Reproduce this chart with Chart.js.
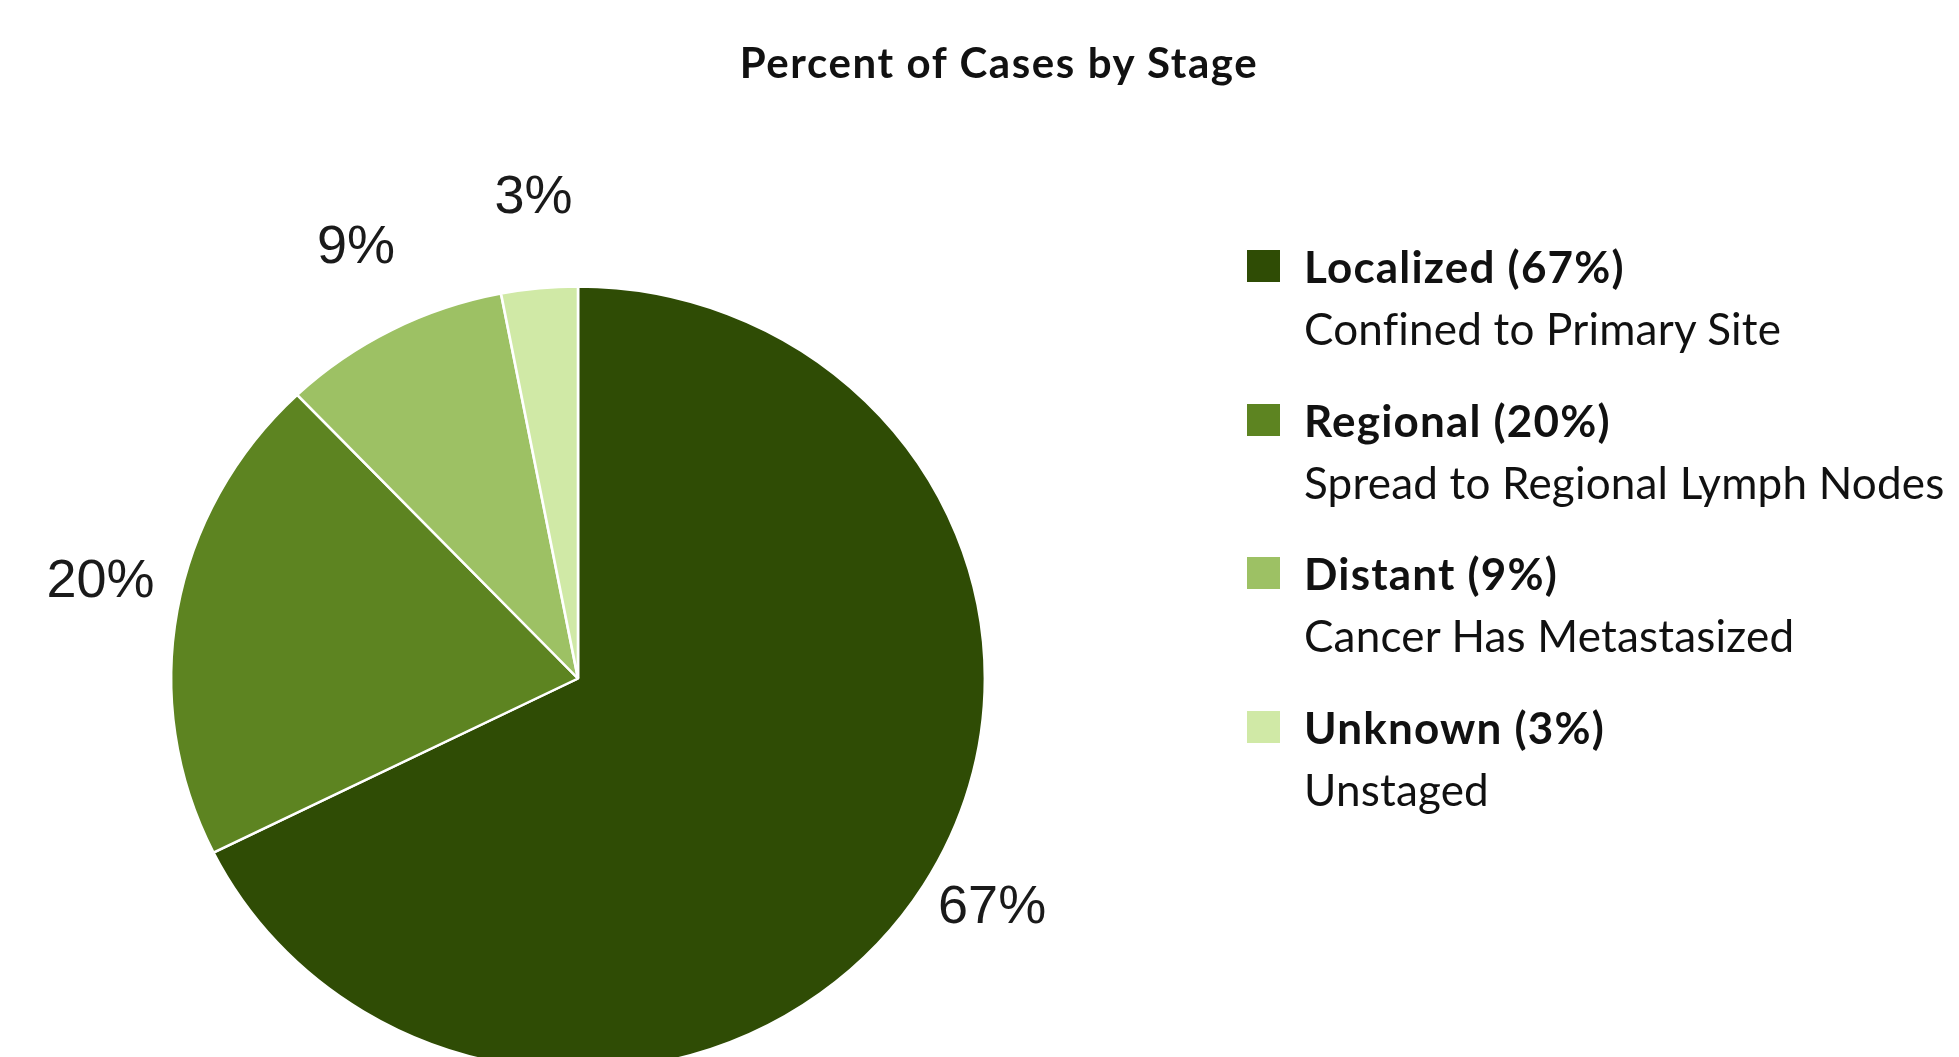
<!DOCTYPE html>
<html>
<head>
<meta charset="utf-8">
<script src="https://cdn.jsdelivr.net/npm/chart.js@4.4.1/dist/chart.umd.min.js"></script>
<style>
  html, body { margin: 0; padding: 0; background: #ffffff; overflow: hidden; width: 1959px; height: 1057px; }
  #wrap { position: absolute; left: 0; top: 0; width: 1959px; height: 1100px; }
  #title { position: absolute; left: 0; top: 37px; width: 1998px; text-align: center;
           font-family: Lato, "Noto Sans", sans-serif; font-weight: 700; font-size: 42px; letter-spacing: 1.6px;
           line-height: 50px; color: #111; }
  #legend { position: absolute; left: 0; top: 0; }
  .item { position: absolute; left: 1247px; }
  .swatch { position: absolute; left: 0; width: 33px; height: 32px; }
  .lab { position: absolute; left: 57px; white-space: nowrap; font-family: Lato, "Noto Sans", sans-serif;
         font-size: 44px; line-height: 48px; color: #111; }
  .lab b { font-weight: 700; letter-spacing: 1.2px; }
  .sub { letter-spacing: 0.2px; }
</style>
</head>
<body>
<div id="wrap"><canvas id="c" width="1959" height="1100"></canvas></div>
<div id="title">Percent of Cases by Stage</div>
<div id="legend"></div>
<script>
// ---- data ----
const categories = ['Localized', 'Regional', 'Distant', 'Unknown'];
const values = [67, 20, 9, 3];
const descriptions = ['Confined to Primary Site', 'Spread to Regional Lymph Nodes', 'Cancer Has Metastasized', 'Unstaged'];
const colors = ['#2F4C05', '#5D8421', '#9DC164', '#D0E9A6'];

// ---- styling ----
const stretchX = 1.038;                 // the reference pie is slightly wider than tall
const labelGap = [66, 79, 93, 95];
const labelAngleNudgeDeg = [-2.4, 2.4, 1.1, 0.4];
const labelFontSize = 54;

function pieCenter(chart) {
  const a = chart.chartArea;
  return { x: (a.left + a.right) / 2, y: (a.top + a.bottom) / 2 };
}

const stretchPlugin = {
  id: 'stretch',
  beforeDatasetsDraw(chart) {
    const c = pieCenter(chart);
    const ctx = chart.ctx;
    ctx.save();
    ctx.translate(c.x, 0);
    ctx.scale(stretchX, 1);
    ctx.translate(-c.x, 0);
  },
  afterDatasetsDraw(chart) {
    chart.ctx.restore();
  }
};

const outsideLabels = {
  id: 'outsideLabels',
  afterDraw(chart) {
    const ctx = chart.ctx;
    const meta = chart.getDatasetMeta(0);
    ctx.save();
    ctx.font = labelFontSize + 'px "Liberation Sans", Arial, sans-serif';
    ctx.fillStyle = '#1a1a1a';
    ctx.textAlign = 'center';
    ctx.textBaseline = 'alphabetic';
    meta.data.forEach((arc, i) => {
      const p = arc.getProps(['x', 'y', 'startAngle', 'endAngle', 'outerRadius'], true);
      const mid = (p.startAngle + p.endAngle) / 2 + labelAngleNudgeDeg[i] * Math.PI / 180;
      const d = p.outerRadius + labelGap[i];
      const lx = p.x + Math.cos(mid) * d * stretchX;
      const ly = p.y + Math.sin(mid) * d;
      ctx.fillText(values[i] + '%', lx, ly + labelFontSize * 0.716 / 2);
    });
    ctx.restore();
  }
};

new Chart(document.getElementById('c'), {
  type: 'pie',
  data: {
    labels: categories,
    datasets: [{
      data: values,
      backgroundColor: colors,
      borderColor: '#ffffff',
      borderWidth: 2.5,
      radius: 392
    }]
  },
  options: {
    responsive: false,
    animation: false,
    layout: { padding: { left: 181, right: 984, top: 282, bottom: 25 } },
    plugins: { legend: { display: false }, tooltip: { enabled: false }, title: { display: false } }
  },
  plugins: [stretchPlugin, outsideLabels]
});

// ---- legend (HTML) ----
const legend = document.getElementById('legend');
const firstRowCenter = 266, itemPitch = 153.5, subOffset = 62;
categories.forEach((cat, i) => {
  const cy = firstRowCenter + i * itemPitch;
  const item = document.createElement('div');
  item.className = 'item';
  item.style.top = '0px';
  const sw = document.createElement('div');
  sw.className = 'swatch';
  sw.style.background = colors[i];
  sw.style.top = (cy - 16) + 'px';
  const l1 = document.createElement('div');
  l1.className = 'lab';
  l1.style.top = (cy - 24) + 'px';
  l1.innerHTML = '<b>' + cat + ' (' + values[i] + '%)</b>';
  const l2 = document.createElement('div');
  l2.className = 'lab sub';
  l2.style.top = (cy + subOffset - 24) + 'px';
  l2.textContent = descriptions[i];
  item.appendChild(sw); item.appendChild(l1); item.appendChild(l2);
  legend.appendChild(item);
});
</script>
</body>
</html>
